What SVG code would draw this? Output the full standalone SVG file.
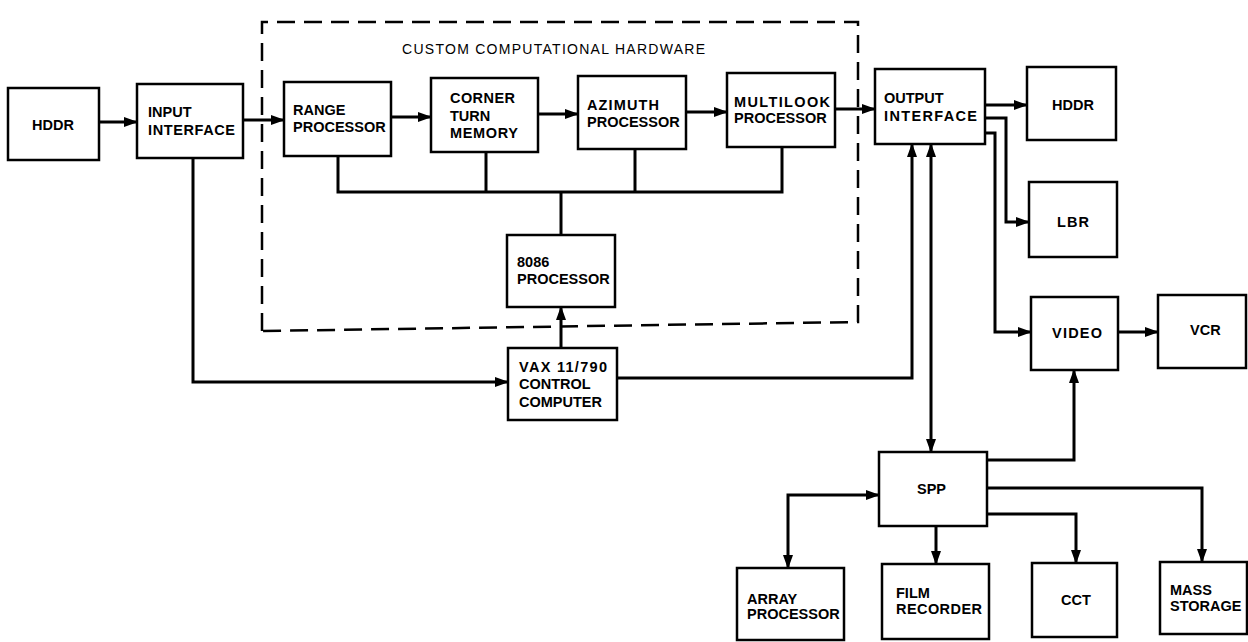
<svg xmlns="http://www.w3.org/2000/svg" width="1248" height="642" viewBox="0 0 1248 642">
<style>
.box{fill:#fff;stroke:#000;stroke-width:2.5}
.lbl{font-family:"Liberation Sans",Arial,sans-serif;font-size:14.5px;font-weight:bold;fill:#000}
.ttl{font-family:"Liberation Sans",Arial,sans-serif;font-size:14px;fill:#000}
.c{fill:none;stroke:#000;stroke-width:3}
.a{marker-end:url(#ah)}
.aa{marker-end:url(#ah);marker-start:url(#ah)}
.dash{fill:none;stroke:#000;stroke-width:2.5;stroke-dasharray:18 9}
</style>
<defs>
<marker id="ah" markerUnits="userSpaceOnUse" markerWidth="14" markerHeight="10" refX="13" refY="5" orient="auto-start-reverse" viewBox="0 0 14 10">
<path d="M0,0 L14,5 L0,10 z" fill="#000"/>
</marker>
</defs>
<rect width="1248" height="642" fill="#fff"/>

<g id="hardware-boundary">
<path class="dash" d="M262,331 V22 H858 V322 Z"/>
<text class="ttl" x="402" y="54" textLength="303">CUSTOM COMPUTATIONAL HARDWARE</text>
</g>

<g id="connectors">
<path class="c a" d="M99,122 H137"/>
<path class="c a" d="M243,120 H284"/>
<path class="c a" d="M391,117 H431"/>
<path class="c a" d="M538,114 H578"/>
<path class="c a" d="M686,112 H727"/>
<path class="c a" d="M835,109 H875"/>
<path class="c" d="M338,156 V192 H782 V147"/>
<path class="c" d="M486,152 V192"/>
<path class="c" d="M635,149 V192"/>
<path class="c" d="M561,192 V235"/>
<path class="c a" d="M193,158 V382 H508"/>
<path class="c a" d="M561,348 V307"/>
<path class="c a" d="M617,378 H912 V144"/>
<path class="c aa" d="M931,144 V452"/>
<path class="c a" d="M985,105 H1027"/>
<path class="c a" d="M985,118 H1006 V222 H1029"/>
<path class="c a" d="M985,133 H995 V332 H1031"/>
<path class="c a" d="M1118,332 H1158"/>
<path class="c a" d="M987,460 H1074 V370"/>
<path class="c aa" d="M788,568 V495 H879"/>
<path class="c a" d="M936,526 V564"/>
<path class="c a" d="M987,514 H1076 V563"/>
<path class="c a" d="M987,488 H1202 V562"/>
</g>

<g id="hddr-in"><rect class="box" x="8" y="88" width="91" height="72"/><text class="lbl" x="32" y="130">HDDR</text></g>
<g id="input-interface"><rect class="box" x="137" y="84" width="106" height="74"/><text class="lbl" x="148" y="117">INPUT</text><text class="lbl" x="148" y="135" textLength="87">INTERFACE</text></g>
<g id="range-processor"><rect class="box" x="284" y="82" width="107" height="74"/><text class="lbl" x="293" y="115">RANGE</text><text class="lbl" x="293" y="132">PROCESSOR</text></g>
<g id="corner-turn-memory"><rect class="box" x="431" y="78" width="107" height="74"/><text class="lbl" x="450" y="103" textLength="65">CORNER</text><text class="lbl" x="450" y="121">TURN</text><text class="lbl" x="450" y="138" textLength="68">MEMORY</text></g>
<g id="azimuth-processor"><rect class="box" x="578" y="76" width="108" height="73"/><text class="lbl" x="587" y="110" textLength="72">AZIMUTH</text><text class="lbl" x="587" y="127">PROCESSOR</text></g>
<g id="multilook-processor"><rect class="box" x="727" y="73" width="108" height="74"/><text class="lbl" x="734" y="107" textLength="96">MULTILOOK</text><text class="lbl" x="734" y="123">PROCESSOR</text></g>
<g id="output-interface"><rect class="box" x="875" y="69" width="110" height="75"/><text class="lbl" x="884" y="103">OUTPUT</text><text class="lbl" x="884" y="121" textLength="93">INTERFACE</text></g>
<g id="hddr-out"><rect class="box" x="1027" y="67" width="89" height="73"/><text class="lbl" x="1052" y="110">HDDR</text></g>
<g id="lbr"><rect class="box" x="1029" y="182" width="88" height="75"/><text class="lbl" x="1057" y="227" textLength="32">LBR</text></g>
<g id="video"><rect class="box" x="1031" y="297" width="87" height="73"/><text class="lbl" x="1052" y="338" textLength="50">VIDEO</text></g>
<g id="vcr"><rect class="box" x="1158" y="295" width="88" height="73"/><text class="lbl" x="1190" y="335">VCR</text></g>
<g id="p8086"><rect class="box" x="507" y="235" width="108" height="72"/><text class="lbl" x="517" y="267">8086</text><text class="lbl" x="517" y="284">PROCESSOR</text></g>
<g id="vax"><rect class="box" x="508" y="348" width="109" height="72"/><text class="lbl" x="519" y="372" textLength="88">VAX 11/790</text><text class="lbl" x="519" y="389">CONTROL</text><text class="lbl" x="519" y="407">COMPUTER</text></g>
<g id="spp"><rect class="box" x="879" y="452" width="108" height="74"/><text class="lbl" x="917" y="494">SPP</text></g>
<g id="array-processor"><rect class="box" x="737" y="568" width="107" height="72"/><text class="lbl" x="747" y="604">ARRAY</text><text class="lbl" x="747" y="619">PROCESSOR</text></g>
<g id="film-recorder"><rect class="box" x="882" y="564" width="107" height="75"/><text class="lbl" x="896" y="598">FILM</text><text class="lbl" x="896" y="614" textLength="86">RECORDER</text></g>
<g id="cct"><rect class="box" x="1032" y="563" width="85" height="74"/><text class="lbl" x="1061" y="605">CCT</text></g>
<g id="mass-storage"><rect class="box" x="1160" y="562" width="87" height="72"/><text class="lbl" x="1170" y="595">MASS</text><text class="lbl" x="1170" y="611">STORAGE</text></g>
</svg>
